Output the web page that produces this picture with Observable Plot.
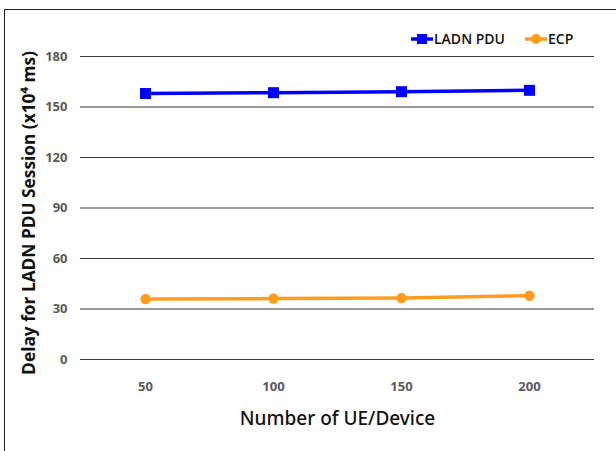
<!DOCTYPE html>
<html>
<head>
<meta charset="utf-8">
<script src="https://cdn.jsdelivr.net/npm/d3@7"></script>
<script src="https://cdn.jsdelivr.net/npm/@observablehq/plot@0.6"></script>
<style>
  html, body { margin: 0; padding: 0; background: #fff; }
  #wrap { position: relative; width: 616px; height: 451px; overflow: hidden; font-family: "Open Sans", sans-serif; }
  #border { position: absolute; left: 4px; top: 9px; width: 700px; height: 600px; border-left: 1px solid #222; border-top: 1px solid #222; pointer-events: none; }
  #legend { position: absolute; top: 29px; left: 411px; display: flex; align-items: center; font-family: "Open Sans", sans-serif; font-weight: 600; font-size: 14px; color: #111; }
  #legend .item { display: flex; align-items: center; margin-right: 20px; }
  #legend svg { margin-right: 1px; }
</style>
</head>
<body>
<div id="wrap">
  <div id="chart"></div>
  <div id="border"></div>
  <div id="legend"></div>
</div>
<script>
const categories = [50, 100, 150, 200];
const ladnPdu = [158.0, 158.5, 159.1, 159.9];
const ecp = [35.9, 36.2, 36.5, 37.9];
const yTicks = [0, 30, 60, 90, 120, 150, 180];
const seriesNames = ["LADN PDU", "ECP"];
const seriesColors = ["#0000FF", "#FF9C1E"];
const seriesSymbols = ["square", "circle"];
const xTitle = "Number of UE/Device";
const yTitle = "Delay for LADN PDU Session (x10\u2074 ms)";

const data = [];
categories.forEach((c, i) => {
  data.push({ n: c, v: ladnPdu[i], s: seriesNames[0] });
  data.push({ n: c, v: ecp[i], s: seriesNames[1] });
});

const chart = Plot.plot({
  width: 616,
  height: 451,
  marginLeft: 80,
  marginRight: 22,
  marginTop: 56,
  marginBottom: 92,
  style: { fontFamily: "Open Sans, sans-serif", background: "transparent" },
  x: { type: "point", domain: categories, padding: 0.5 },
  y: { domain: [0, 180] },
  color: { domain: seriesNames, range: seriesColors },
  marks: [
    Plot.ruleY(yTicks, { stroke: "#3a3a3a", strokeWidth: 1.2 }),
    Plot.axisY(yTicks, { tickSize: 0, tickPadding: 13, fontSize: 13, fontWeight: "bold", fill: "#595959", label: null }),
    Plot.axisX(categories, { tickSize: 0, tickPadding: 22, fontSize: 13, fontWeight: "bold", fill: "#595959", label: null }),
    Plot.line(data, { x: "n", y: "v", z: "s", stroke: "s", strokeWidth: 3.5 }),
    Plot.dot(data.filter(d => d.s === seriesNames[0]), { x: "n", y: "v", symbol: "square", r: 6.2, fill: "s", stroke: "none" }),
    Plot.dot(data.filter(d => d.s === seriesNames[1]), { x: "n", y: "v", symbol: "circle", r: 5.2, fill: "s", stroke: "none" }),
    Plot.text([yTitle], { frameAnchor: "left", textAnchor: "middle", rotate: -90, dx: -51, dy: 5, fontSize: 17.3, fontWeight: "bold", fill: "#111", fontFamily: "Open Sans, sans-serif" }),
    Plot.text([xTitle], { frameAnchor: "bottom", dy: 65, fontSize: 19, fontWeight: 500, fill: "#111", fontFamily: "Noto Sans, sans-serif" })
  ]
});
document.getElementById("chart").appendChild(chart);

const legend = document.getElementById("legend");
seriesNames.forEach((name, i) => {
  const item = document.createElement("div");
  item.className = "item";
  const marker = seriesSymbols[i] === "square"
    ? `<rect x="6" y="3" width="10" height="10" fill="${seriesColors[i]}"/>`
    : `<circle cx="11" cy="8" r="5" fill="${seriesColors[i]}"/>`;
  item.innerHTML = `<svg width="22" height="16"><line x1="0" x2="22" y1="8" y2="8" stroke="${seriesColors[i]}" stroke-width="3.5"/>${marker}</svg><span>${name}</span>`;
  legend.appendChild(item);
});
</script>
</body>
</html>
